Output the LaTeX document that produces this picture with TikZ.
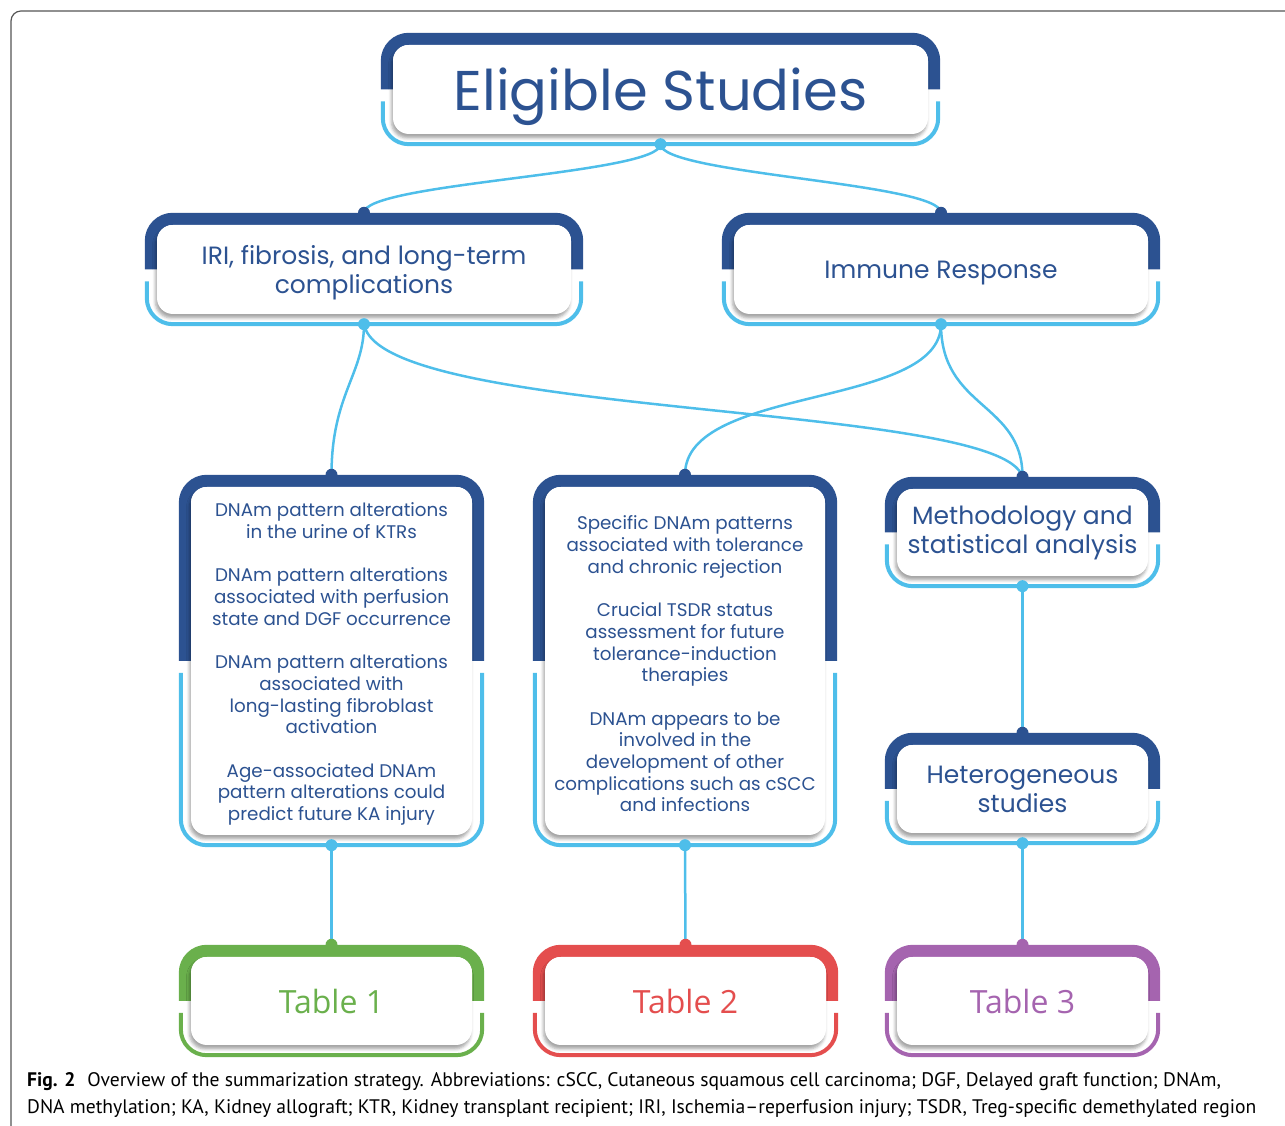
\documentclass[tikz,border=0pt]{standalone}
\usepackage{fontspec}
\setmainfont{Poppins}
\newfontfamily\tabfont{Open Sans}
\newfontfamily\capfont{PT Sans}
\usetikzlibrary{backgrounds,shadows.blur}

\definecolor{navy}{RGB}{44,82,145}
\definecolor{sky}{RGB}{78,190,234}
\definecolor{leaf}{RGB}{106,176,76}
\definecolor{brick}{RGB}{228,78,78}
\definecolor{plum}{RGB}{165,100,175}
\definecolor{framegray}{RGB}{85,85,85}

\tikzset{
  box/.style={fill=white, rounded corners=16pt, inner sep=0pt, align=center, text=navy,
    blur shadow={shadow xshift=-1.5pt, shadow yshift=-4pt, shadow blur radius=3pt, shadow opacity=35}},
  oneline/.style={text depth=0pt},
  topband/.style={line width=12pt, rounded corners=22pt},
  botband/.style={line width=4pt, rounded corners=26pt},
  link/.style={sky, line width=2.5pt},
  title/.style={font=\fontsize{56}{60}\selectfont},
  head/.style={font=\fontsize{25}{29}\selectfont},
  note/.style={font=\fontsize{18.3}{21.7}\selectfont},
  tabletext/.style={font=\tabfont\fontsize{32}{36}\selectfont}
}

% thick band over the top half, thin band under the bottom half
\newcommand{\brackets}[3]{%
  \draw[topband, #2] ([xshift=-6pt]#1.west) |- ([yshift=6pt]#1.north) -| ([xshift=6pt]#1.east);
  \draw[botband, #3] ([xshift=-10pt,yshift=-12pt]#1.west) |- ([yshift=-10pt]#1.south) -| ([xshift=10pt,yshift=-12pt]#1.east);
  \coordinate (#1-in) at ([yshift=12pt]#1.north);
  \coordinate (#1-out) at ([yshift=-10pt]#1.south);
}
% taller first line, pushes a text block down a little
\newcommand{\lift}[1]{\rule{0pt}{#1}}

\begin{document}
\begin{tikzpicture}[x=1pt, y=1pt]
	\useasboundingbox (0,0) rectangle (1285,1126);
	\draw[framegray, line width=1.2pt, rounded corners=10pt] (11,0) |- (1285,1115);

	\node[box, title, oneline, minimum width=535pt, minimum height=89pt] (elig) at (660.5,1036.5) {Eligible Studies};
	\node[box, head, minimum width=414pt, minimum height=89pt] (iri) at (364,856.5) {\lift{25pt}IRI, fibrosis, and long-term\\complications};
	\node[box, head, oneline, minimum width=414pt, minimum height=89pt] (immune) at (941,856.5) {Immune Response};
	\node[box, note, minimum width=281pt, minimum height=348pt] (urine) at (331.5,465)
		{\lift{20pt}DNAm pattern alterations\\in the urine of KTRs\\[21.7pt]
		 DNAm pattern alterations\\associated with perfusion\\state and DGF occurrence\\[21.7pt]
		 DNAm pattern alterations\\associated with\\long-lasting fibroblast\\activation\\[21.7pt]
		 Age-associated DNAm\\pattern alterations could\\predict future KA injury};
	\node[box, note, minimum width=280pt, minimum height=348pt] (tolerance) at (685,465)
		{\lift{20pt}Specific DNAm patterns\\associated with tolerance\\and chronic rejection\\[21.7pt]
		 Crucial TSDR status\\assessment for future\\tolerance-induction\\therapies\\[21.7pt]
		 DNAm appears to be\\involved in the\\development of other\\complications such as cSCC\\and infections};
	\node[box, head, minimum width=251pt, minimum height=87pt] (method) at (1022.5,593.5) {Methodology and\\statistical analysis};
	\node[box, head, minimum width=251pt, minimum height=88pt] (hetero) at (1022.5,337) {Heterogeneous\\studies};
	\node[box, tabletext, oneline, text=leaf, minimum width=281pt, minimum height=88pt] (tab1) at (331.5,125) {Table 1};
	\node[box, tabletext, oneline, text=brick, minimum width=281pt, minimum height=88pt] (tab2) at (685.5,125) {Table 2};
	\node[box, tabletext, oneline, text=plum, minimum width=251pt, minimum height=88pt] (tab3) at (1022.5,125) {Table 3};

	\begin{pgfonlayer}{background}
		\foreach \n in {elig, iri, immune, urine, tolerance, method, hetero}
			{\brackets{\n}{navy}{sky}}
		\brackets{tab1}{leaf}{leaf}
		\brackets{tab2}{brick}{brick}
		\brackets{tab3}{plum}{plum}
	\end{pgfonlayer}

	% links
	\draw[link] (elig-out) .. controls +(0,-30) and +(0,30) .. (iri-in);
	\draw[link] (elig-out) .. controls +(0,-30) and +(0,30) .. (immune-in);
	\draw[link] (iri-out) .. controls +(0,-50) and +(0,80) .. (urine-in);
	\draw[link] (iri-out) .. controls +(16,-95) and +(-22,75) .. (method-in);
	\draw[link] (immune-out) .. controls +(0,-85) and +(0,90) .. (tolerance-in);
	\draw[link] (immune-out) .. controls +(0,-85) and +(0,75) .. (method-in);
	\draw[link] (method-out) -- (hetero-in);
	\draw[link] (urine-out) -- (tab1-in);
	\draw[link] (tolerance-out) -- (tab2-in);
	\draw[link] (hetero-out) -- (tab3-in);

	\foreach \n in {elig, iri, immune, urine, tolerance, method, hetero}
		\fill[sky] (\n-out) circle[radius=6pt];
	\foreach \n in {iri, immune, urine, tolerance, method, hetero}
		\fill[navy] (\n-in) circle[radius=6pt];
	\fill[leaf] (tab1-in) circle[radius=6pt];
	\fill[brick] (tab2-in) circle[radius=6pt];
	\fill[plum] (tab3-in) circle[radius=6pt];

	\node[anchor=base west, inner sep=0pt, font=\capfont\fontsize{19.6}{27}\selectfont] (cap1) at (27,39)
		{\textbf{Fig. 2}\hspace{12pt}Overview of the summarization strategy. Abbreviations: cSCC, Cutaneous squamous cell carcinoma; DGF, Delayed graft function; DNAm,};
	\node[anchor=base west, inner sep=0pt, font=\capfont\fontsize{19.6}{27}\selectfont] (cap2) at (27,12)
		{DNA methylation; KA, Kidney allograft; KTR, Kidney transplant recipient; IRI, Ischemia–reperfusion injury; TSDR, Treg-specific demethylated region};
\end{tikzpicture}
\end{document}
